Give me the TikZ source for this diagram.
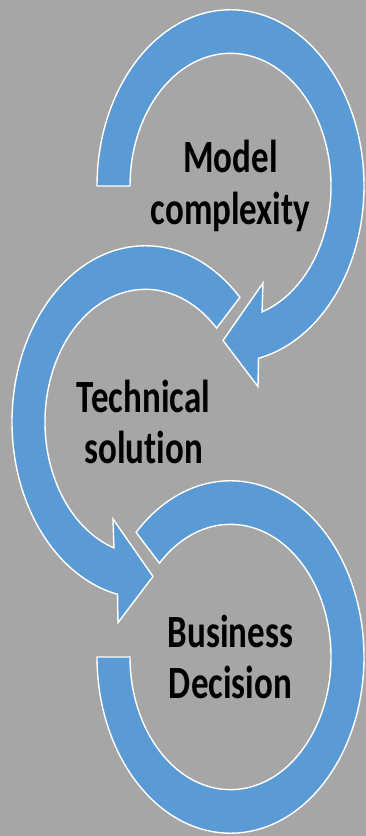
\documentclass[tikz,border=0pt]{standalone}
\usepackage{fontspec}
\setmainfont{Carlito}[Ligatures=NoCommon]
\definecolor{ringblue}{HTML}{5B9BD5}
\definecolor{backgray}{HTML}{A6A6A6}

\begin{document}
\begin{tikzpicture}[x=1pt,y=1pt,
  band/.style={fill=ringblue,draw=white,line width=1.4pt,line join=miter},
  ringtext/.style={font=\fontsize{35}{39}\selectfont\bfseries,align=center,transform shape,inner sep=0pt}]
\fill[backgray] (0,0) rectangle (366,836);
\useasboundingbox (0,0) rectangle (366,836);
% first ring, arrow at the bottom
\begin{scope}[shift={(230.5,650)},yscale=1.32]
\draw[band] (180:133.5) arc[start angle=180,end angle=-77.9,radius=133.5]
  -- (27.5,-152) -- (-7.5,-117) -- (32.5,-73.5) -- (-71.7:100.5)
  arc[start angle=-71.7,end angle=180,radius=100.5] -- cycle;
\node[ringtext] (model) at (0,0) {Model\\complexity};
\end{scope}
% second ring
\begin{scope}[shift={(145.5,414)},yscale=1.32]
\draw[band] (45:133.5) arc[start angle=45,end angle=257.9,radius=133.5]
  -- (-27.5,-152) -- (7.5,-117) -- (-32.5,-73.5) -- (251.7:100.5)
  arc[start angle=251.7,end angle=45,radius=100.5] -- cycle;
\node[ringtext] (technical) at (-2,0) {Technical\\solution};
\end{scope}
% third ring, no head
\begin{scope}[shift={(230.5,179)},yscale=1.32]
\draw[band] (135:133.5) arc[start angle=135,end angle=-180,radius=133.5]
  -- (180:100.5) arc[start angle=-180,end angle=135,radius=100.5] -- cycle;
\node[ringtext] (business) at (0,0) {Business\\Decision};
\end{scope}
\end{tikzpicture}
\end{document}
